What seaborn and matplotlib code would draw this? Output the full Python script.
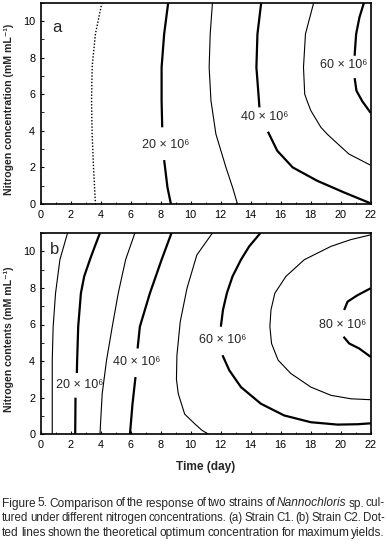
import matplotlib
matplotlib.use("Agg")
import matplotlib.pyplot as plt
from matplotlib import font_manager
from matplotlib.ticker import MultipleLocator
import seaborn as sns
import pandas as pd

# ---------------- data ----------------
# Panel a  (Strain C1): time (day) vs nitrogen concentration
a_opt_t = [4.08, 3.65, 3.43, 3.39, 3.43, 3.52, 3.65]
a_opt_n = [11.0, 9.3, 7.5, 5.6, 3.8, 2.0, 0.0]

a_20_up_t = [8.5, 8.23, 8.06, 8.06, 8.1]
a_20_up_n = [11.0, 9.29, 7.47, 5.65, 4.19]
a_20_lo_t = [8.23, 8.45, 8.68]
a_20_lo_n = [2.4, 0.91, 0.0]

a_30_t = [11.45, 11.3, 11.23, 11.35, 11.68, 12.35, 12.79, 13.12]
a_30_n = [11.0, 9.29, 7.47, 5.65, 3.82, 2.0, 0.91, 0.0]

a_40_up_t = [14.7, 14.45, 14.38, 14.55, 14.58]
a_40_up_n = [11.0, 9.29, 7.47, 5.65, 5.28]
a_40_lo_t = [15.15, 15.77, 16.8, 18.43, 20.2, 21.95]
a_40_lo_n = [3.95, 2.91, 2.0, 1.27, 0.64, 0.05]

a_50_t = [18.2, 17.65, 17.52, 17.6, 17.75, 18.01, 18.68, 19.1, 19.57, 20.55, 21.97]
a_50_n = [11.0, 9.29, 7.47, 6.01, 5.65, 5.1, 4.19, 3.82, 3.46, 2.73, 2.13]

a_60_up_t = [21.55, 21.25, 21.03, 20.95, 20.93]
a_60_up_n = [11.0, 10.2, 9.29, 8.38, 8.1]
a_60_lo_t = [20.93, 21.05, 21.45, 22.0]
a_60_lo_n = [6.88, 6.19, 5.6, 4.98]

# Panel b  (Strain C2): time (day) vs nitrogen contents
b_10_t = [1.79, 1.28, 0.99, 0.83, 0.77, 0.77, 0.77]
b_10_n = [11.0, 9.54, 7.71, 5.88, 4.05, 2.22, 0.0]

b_20_up_t = [3.95, 3.61, 3.28, 2.9, 2.68, 2.5, 2.43, 2.41]
b_20_up_n = [11.0, 10.27, 9.54, 8.63, 7.71, 5.88, 4.05, 3.35]
b_20_lo_t = [2.32, 2.3]
b_20_lo_n = [2.0, 0.0]

b_30_t = [6.28, 5.66, 5.17, 4.77, 4.39, 4.1, 3.95]
b_30_n = [11.0, 9.54, 7.71, 5.88, 4.05, 2.22, 0.0]

b_40_up_t = [8.72, 8.39, 8.06, 7.28, 6.61, 6.46]
b_40_up_n = [11.0, 10.27, 9.54, 7.71, 5.88, 4.69]
b_40_lo_t = [6.32, 6.12, 5.95]
b_40_lo_n = [3.13, 1.66, 0.0]

b_50_t = [11.45, 10.41, 9.75, 9.3, 9.08, 9.05, 9.17, 9.6, 10.3, 10.75, 11.19]
b_50_n = [11.0, 9.8, 7.97, 6.14, 4.3, 3.0, 2.22, 1.1, 0.55, 0.22, 0.0]

b_60_up_t = [14.65, 13.9, 13.35, 12.79, 12.41, 12.15, 12.01]
b_60_up_n = [11.0, 10.27, 9.54, 8.63, 7.71, 6.79, 5.88]
b_60_lo_t = [12.12, 12.57, 13.35, 14.68, 16.23, 18.01, 19.79, 21.12, 22.0]
b_60_lo_n = [4.32, 3.5, 2.58, 1.67, 1.03, 0.66, 0.53, 0.55, 0.6]

b_70_t = [22.0, 20.68, 19.35, 17.57, 16.35, 15.61, 15.35, 15.28, 15.39, 15.83,
          16.68, 18.01, 19.35, 20.68, 22.0]
b_70_n = [10.9, 10.64, 10.27, 9.54, 8.63, 7.71, 6.79, 5.88, 4.96, 4.05,
          3.32, 2.58, 2.13, 1.94, 1.89]

b_80_up_t = [22.0, 21.12, 20.46, 20.23]
b_80_up_n = [7.98, 7.6, 7.25, 6.79]
b_80_lo_t = [20.19, 20.57, 21.23, 22.0]
b_80_lo_n = [5.33, 4.96, 4.69, 4.23]

# contour labels: text, time, nitrogen
a_labels = ["20 × 10⁶", "40 × 10⁶", "60 × 10⁶"]
a_label_t = [8.3, 14.92, 20.23]
a_label_n = [3.24, 4.74, 7.59]
b_labels = ["20 × 10⁶", "40 × 10⁶", "60 × 10⁶", "80 × 10⁶"]
b_label_t = [2.63, 6.43, 12.1, 20.12]
b_label_n = [2.67, 3.96, 5.13, 6.0]

x_ticks = list(range(0, 23, 2))
y_ticks = list(range(0, 11, 2))

ylabel_a = "Nitrogen concentration (mM mL⁻¹)"
ylabel_b = "Nitrogen contents (mM mL⁻¹)"
xlabel_b = "Time (day)"
caption = [
    [("Figure", "normal"), ("5.", "normal"), ("Comparison", "normal"), ("of", "normal"),
     ("the", "normal"), ("response", "normal"), ("of", "normal"), ("two", "normal"),
     ("strains", "normal"), ("of", "normal"), ("Nannochloris", "italic"), ("sp.", "normal"),
     ("cul-", "normal")],
    [(w, "normal") for w in "tured under different nitrogen concentrations. (a) Strain C1. (b) Strain C2. Dot-".split()],
    [(w, "normal") for w in "ted lines shown the theoretical optimum concentration for maximum yields.".split()],
]

# ---------------- styling ----------------
sns.set_style("ticks")
names = {f.name for f in font_manager.fontManager.ttflist}
NARROW = "Liberation Sans Narrow" if "Liberation Sans Narrow" in names else "Liberation Sans"
plt.rcParams["font.family"] = ["Liberation Sans", "DejaVu Sans"]
plt.rcParams["axes.linewidth"] = 1.2
plt.rcParams["axes.edgecolor"] = "black"

W, H = 387, 545
fig = plt.figure(figsize=(W / 100, H / 100), dpi=100)
ax_a = fig.add_axes([40.7 / W, 1 - 204 / H, 330 / W, 201.3 / H])
ax_b = fig.add_axes([40.7 / W, 1 - 434.3 / H, 330 / W, 201.3 / H])

THICK = dict(lw=1.6, ls="-")
THIN = dict(lw=0.8, ls="-")
DOT = dict(lw=1.0, ls=(0, (1, 1.3)))

segments_a = [
    (a_opt_t, a_opt_n, DOT),
    (a_20_up_t, a_20_up_n, THICK), (a_20_lo_t, a_20_lo_n, THICK),
    (a_30_t, a_30_n, THIN),
    (a_40_up_t, a_40_up_n, THICK), (a_40_lo_t, a_40_lo_n, THICK),
    (a_50_t, a_50_n, THIN),
    (a_60_up_t, a_60_up_n, THICK), (a_60_lo_t, a_60_lo_n, THICK),
]
segments_b = [
    (b_10_t, b_10_n, THIN),
    (b_20_up_t, b_20_up_n, THICK), (b_20_lo_t, b_20_lo_n, THICK),
    (b_30_t, b_30_n, THIN),
    (b_40_up_t, b_40_up_n, THICK), (b_40_lo_t, b_40_lo_n, THICK),
    (b_50_t, b_50_n, THIN),
    (b_60_up_t, b_60_up_n, THICK), (b_60_lo_t, b_60_lo_n, THICK),
    (b_70_t, b_70_n, THIN),
    (b_80_up_t, b_80_up_n, THICK), (b_80_lo_t, b_80_lo_n, THICK),
]

for ax, segs in ((ax_a, segments_a), (ax_b, segments_b)):
    for t, n, st in segs:
        df = pd.DataFrame({"t": t, "n": n})
        sns.lineplot(data=df, x="t", y="n", sort=False, estimator=None, ax=ax,
                     color="black", linewidth=st["lw"], linestyle=st["ls"],
                     solid_capstyle="butt")
    ax.set_xlim(0, 22)
    ax.set_ylim(0, 11)
    ax.set_xticks(x_ticks)
    ax.set_yticks(y_ticks)
    ax.xaxis.set_minor_locator(MultipleLocator(1))
    ax.yaxis.set_minor_locator(MultipleLocator(1))
    ax.tick_params(which="major", direction="in", length=2.5, width=0.8,
                   labelsize=7.8, pad=4, colors="black")
    ax.tick_params(which="minor", direction="in", length=1.8, width=0.7)
    ax.set_xlabel("")
    for s in ax.spines.values():
        s.set_visible(True)
        s.set_linewidth(1.2)

lab_kw = dict(ha="center", va="center", fontsize=9, family=[NARROW, "DejaVu Sans"])
for txt, t, n in zip(a_labels, a_label_t, a_label_n):
    ax_a.text(t, n, txt, **lab_kw)
for txt, t, n in zip(b_labels, b_label_t, b_label_n):
    ax_b.text(t, n, txt, **lab_kw)

ax_a.text(1.09, 9.66, "a", ha="center", va="center", fontsize=12)
ax_b.text(0.93, 10.08, "b", ha="center", va="center", fontsize=12)

ax_a.set_ylabel(ylabel_a, fontsize=7.6, fontweight="bold")
ax_b.set_ylabel(ylabel_b, fontsize=7.6, fontweight="bold")
ax_a.yaxis.set_label_coords(-0.082, 0.47)
ax_b.yaxis.set_label_coords(-0.082, 0.47)

fig.text(205.7 / W, 1 - 467 / H, xlabel_b, ha="center", va="center",
         fontsize=8.6, fontweight="bold")

# justified caption
fig.canvas.draw()
renderer = fig.canvas.get_renderer()
baselines = [506.5, 521.3, 535.8]
left_px, right_px = 2.0, 385.0
cap_size = 9.2
for line, yb in zip(caption, baselines):
    size = cap_size
    while True:
        objs = [fig.text(0, 1 - yb / H, w, fontsize=size, style=st, va="baseline",
                         ha="left", family=[NARROW, "DejaVu Sans"]) for w, st in line]
        widths = [o.get_window_extent(renderer).width for o in objs]
        gap = (right_px - left_px - sum(widths)) / (len(objs) - 1)
        if gap >= 1.5 or size < 5:
            break
        for o in objs:
            o.remove()
        size -= 0.3
    x = left_px
    for o, wdt in zip(objs, widths):
        o.set_x(x / W)
        x += wdt + gap

fig.savefig("out.png", dpi=100)
